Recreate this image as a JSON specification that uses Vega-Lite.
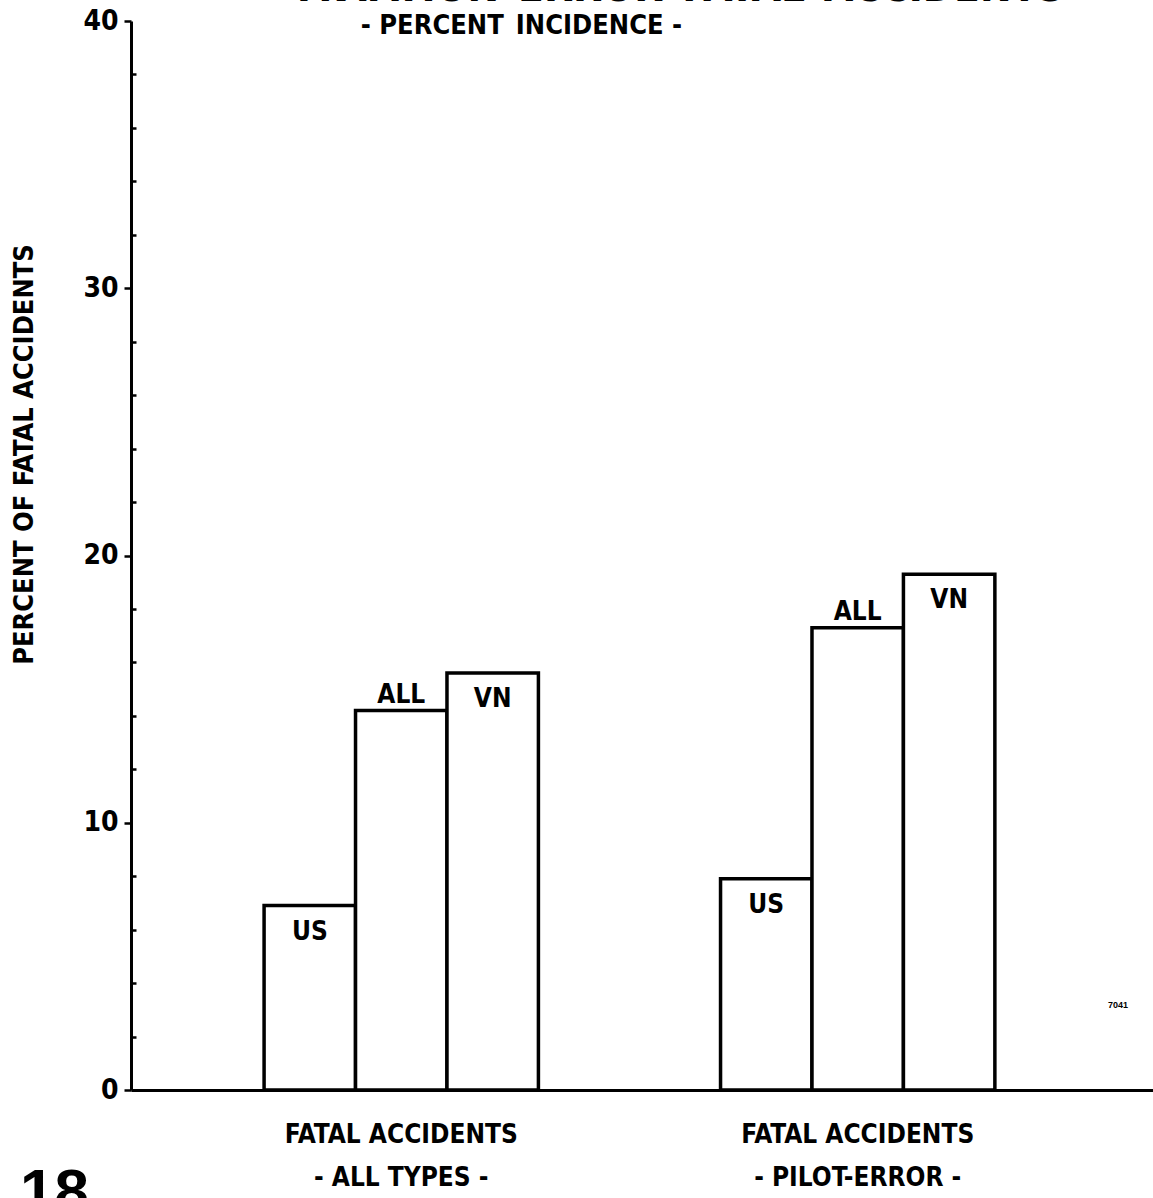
{
  "$schema": "https://vega.github.io/schema/vega-lite/v6.json",
  "width": 1022,
  "height": 1069,
  "autosize": {"type": "none"},
  "padding": {"left": 131, "top": 21, "right": 0, "bottom": 108},
  "background": "white",
  "config": {"view": {"stroke": null}, "font": "DejaVu Sans Condensed, Liberation Sans Narrow, Liberation Sans, sans-serif"},
  "title": {
    "text": "AVIATION\u2002ERROR\u2002FATAL\u2002ACCIDENTS",
    "subtitle": "\u200b\u2003\u2003\u2002- PERCENT\u2002INCIDENCE -",
    "anchor": "start",
    "frame": "group",
    "align": "left",
    "dx": 169,
    "offset": -33,
    "font": "DejaVu Sans Condensed, Liberation Sans Narrow, Liberation Sans, sans-serif",
    "fontSize": 42,
    "fontWeight": "bold",
    "color": "black",
    "subtitleFont": "DejaVu Sans Condensed, Liberation Sans Narrow, Liberation Sans, sans-serif",
    "subtitleFontSize": 27,
    "subtitleFontWeight": "bold",
    "subtitleColor": "black",
    "subtitlePadding": 3
  },
  "layer": [
    {
      "data": {
        "values": [
          {"group": "FATAL ACCIDENTS|- ALL TYPES -", "region": "US", "percent": 6.9},
          {"group": "FATAL ACCIDENTS|- ALL TYPES -", "region": "ALL", "percent": 14.2},
          {"group": "FATAL ACCIDENTS|- ALL TYPES -", "region": "VN", "percent": 15.6},
          {"group": "FATAL ACCIDENTS|- PILOT-ERROR -", "region": "US", "percent": 7.9},
          {"group": "FATAL ACCIDENTS|- PILOT-ERROR -", "region": "ALL", "percent": 17.3},
          {"group": "FATAL ACCIDENTS|- PILOT-ERROR -", "region": "VN", "percent": 19.3}
        ]
      },
      "encoding": {
        "x": {
          "field": "group",
          "type": "nominal",
          "sort": ["FATAL ACCIDENTS|- ALL TYPES -", "FATAL ACCIDENTS|- PILOT-ERROR -"],
          "scale": {"paddingInner": 0.399, "paddingOuter": 0.319, "align": 0.457},
          "axis": {
            "title": null,
            "labelAngle": 0,
            "labelExpr": "split(datum.label, '|')",
            "labelFont": "DejaVu Sans Condensed, Liberation Sans Narrow, Liberation Sans, sans-serif",
            "labelFontSize": 26,
            "labelFontWeight": "bold",
            "labelColor": "black",
            "labelLineHeight": 43,
            "labelPadding": 31,
            "labelLimit": 0,
            "ticks": false,
            "domainColor": "black",
            "domainWidth": 3
          }
        },
        "xOffset": {
          "field": "region",
          "type": "nominal",
          "sort": ["US", "ALL", "VN"],
          "scale": {"paddingInner": 0, "paddingOuter": 0}
        },
        "y": {
          "field": "percent",
          "type": "quantitative",
          "scale": {"domain": [0, 40], "nice": false, "zero": true},
          "axis": {
            "values": [0, 2, 4, 6, 8, 10, 12, 14, 16, 18, 20, 22, 24, 26, 28, 30, 32, 34, 36, 38, 40],
            "labelExpr": "datum.value % 10 === 0 ? datum.label : ''",
            "tickSize": {"condition": {"test": "datum.value % 10 === 0", "value": 7}, "value": -5},
            "tickWidth": 2.5,
            "tickColor": "black",
            "domainColor": "black",
            "domainWidth": 3,
            "grid": false,
            "labelFont": "DejaVu Sans Condensed, Liberation Sans Narrow, Liberation Sans, sans-serif",
            "labelFontSize": 28,
            "labelFontWeight": "bold",
            "labelColor": "black",
            "labelPadding": 6,
            "title": "PERCENT OF FATAL ACCIDENTS",
            "titleFont": "DejaVu Sans Condensed, Liberation Sans Narrow, Liberation Sans, sans-serif",
            "titleFontSize": 27,
            "titleFontWeight": "bold",
            "titleColor": "black",
            "titleX": -107,
            "titleY": 433,
            "titleAlign": "center",
            "titleBaseline": "middle",
            "titleAngle": -90
          }
        }
      },
      "layer": [
        {
          "mark": {"type": "bar", "fill": "white", "stroke": "black", "strokeWidth": 3.5}
        },
        {
          "transform": [{"filter": "datum.region === 'ALL'"}],
          "mark": {"type": "text", "baseline": "alphabetic", "dy": -8, "font": "DejaVu Sans Condensed, Liberation Sans Narrow, Liberation Sans, sans-serif", "fontSize": 26, "fontWeight": "bold", "color": "black"},
          "encoding": {"text": {"field": "region"}}
        },
        {
          "transform": [{"filter": "datum.region !== 'ALL'"}],
          "mark": {"type": "text", "baseline": "alphabetic", "dy": 34, "font": "DejaVu Sans Condensed, Liberation Sans Narrow, Liberation Sans, sans-serif", "fontSize": 26, "fontWeight": "bold", "color": "black"},
          "encoding": {"text": {"field": "region"}}
        }
      ]
    },
    {
      "data": {
        "values": [
          {"note": "18", "px": -0.1086, "py": -4.57},
          {"note": "7041", "px": 0.9658, "py": 3.18}
        ]
      },
      "encoding": {
        "x": {"field": "px", "type": "quantitative", "scale": {"domain": [0, 1], "nice": false, "zero": false}, "axis": null},
        "y": {"field": "py", "type": "quantitative", "scale": {"domain": [0, 40], "nice": false, "zero": false}, "axis": null},
        "text": {"field": "note"}
      },
      "layer": [
        {
          "transform": [{"filter": "datum.note === '18'"}],
          "mark": {"type": "text", "align": "left", "baseline": "alphabetic", "font": "Liberation Sans", "fontSize": 62, "fontWeight": "bold", "color": "black"}
        },
        {
          "transform": [{"filter": "datum.note === '7041'"}],
          "mark": {"type": "text", "align": "center", "baseline": "middle", "font": "Liberation Sans", "fontSize": 9, "fontWeight": "bold", "color": "black"}
        }
      ]
    }
  ],
  "resolve": {"scale": {"x": "independent", "y": "independent"}}
}
